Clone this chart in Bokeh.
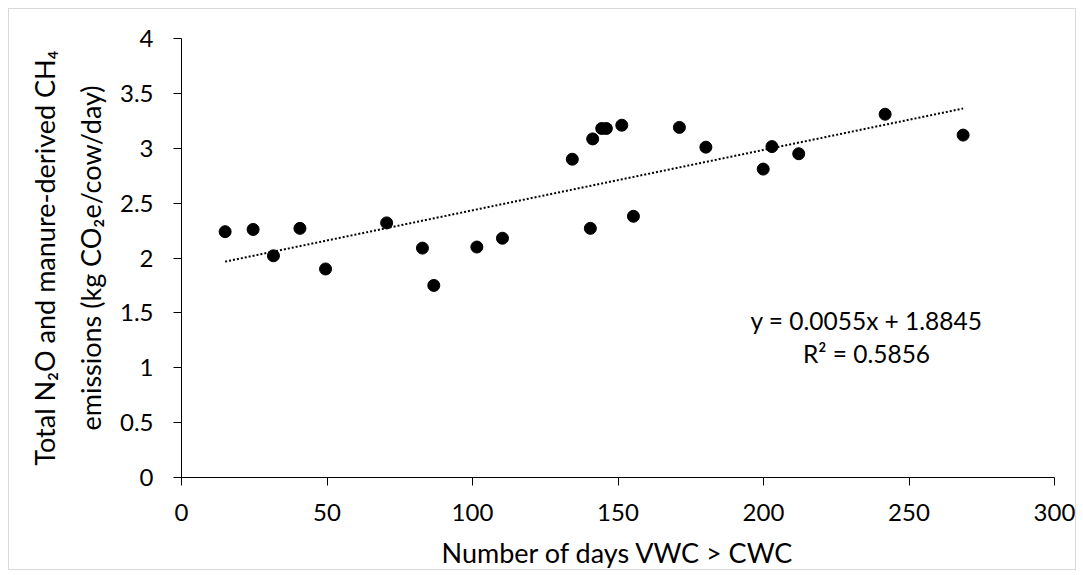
from bokeh.plotting import figure
from bokeh.models import Range1d, FixedTicker, NumeralTickFormatter, Label
from bokeh.embed import file_html
from bokeh.resources import INLINE

# ---- data ----
days = [15.0, 24.6, 31.6, 40.7, 49.5, 70.5, 82.8, 86.7, 101.5, 110.3,
        134.3, 140.5, 141.3, 144.4, 146.0, 151.3, 155.3, 171.1, 180.2,
        199.9, 202.9, 212.1, 241.8, 268.6]
emissions = [2.24, 2.26, 2.02, 2.27, 1.90, 2.32, 2.09, 1.75, 2.10, 2.18,
             2.90, 2.27, 3.085, 3.18, 3.18, 3.21, 2.38, 3.19, 3.01,
             2.81, 3.015, 2.95, 3.31, 3.12]
slope = 0.0055
intercept = 1.8845
eq_text = "y = 0.0055x + 1.8845"
r2_text = "R² = 0.5856"
x_ticks = [0, 50, 100, 150, 200, 250, 300]
y_ticks = [0, 0.5, 1, 1.5, 2, 2.5, 3, 3.5, 4]
x_title = "Number of days VWC > CWC"
y_title = "Total N₂O and manure-derived CH₄\nemissions (kg CO₂e/cow/day)"

FONT = "Lato"

p = figure(width=1068, height=562, output_backend="svg", toolbar_location=None,
           x_range=Range1d(0, 300), y_range=Range1d(0, 4),
           min_border_left=172, min_border_right=23,
           min_border_top=29, min_border_bottom=93)
p.styles = {"border": "1px solid #d9d9d9", "margin-left": "8px", "margin-top": "8px"}
p.outline_line_color = None
p.xgrid.visible = False
p.ygrid.visible = False

for ax in (p.xaxis[0], p.yaxis[0]):
    ax.axis_line_color = "black"
    ax.major_tick_line_color = "black"
    ax.minor_tick_line_color = None
    ax.major_tick_in = 0
    ax.major_tick_out = 8
    ax.major_label_text_font = FONT
    ax.major_label_text_font_size = "24px"
    ax.major_label_text_color = "black"
    ax.axis_label_text_font = FONT
    ax.axis_label_text_font_size = "27px"
    ax.axis_label_text_font_style = "normal"
    ax.axis_label_text_color = "black"
    ax.formatter = NumeralTickFormatter(format="0.[0]")

p.xaxis.ticker = FixedTicker(ticks=x_ticks)
p.yaxis.ticker = FixedTicker(ticks=y_ticks)
p.xaxis.axis_label = x_title
p.yaxis.axis_label = y_title
p.xaxis.major_label_standoff = 18
p.yaxis.major_label_standoff = 20
p.xaxis.axis_label_standoff = 12
p.yaxis.axis_label_standoff = 10
p.yaxis.axis_label_text_line_height = 1.4

# trendline (from the displayed equation), spanning the data range
tx = [min(days), max(days)]
ty = [slope * v + intercept for v in tx]
p.line(tx, ty, line_color="black", line_width=2, line_dash="2 2")

p.scatter(days, emissions, size=12, fill_color="black", line_color="black")

p.add_layout(Label(x=235.4, y=1.434, text=eq_text, text_align="center",
                   text_baseline="middle", text_font=FONT,
                   text_font_size="24.5px", text_color="black"))
p.add_layout(Label(x=235.4, y=1.134, text=r2_text, text_align="center",
                   text_baseline="middle", text_font=FONT,
                   text_font_size="24.5px", text_color="black"))

open("out.html", "w").write(file_html(p, INLINE))
